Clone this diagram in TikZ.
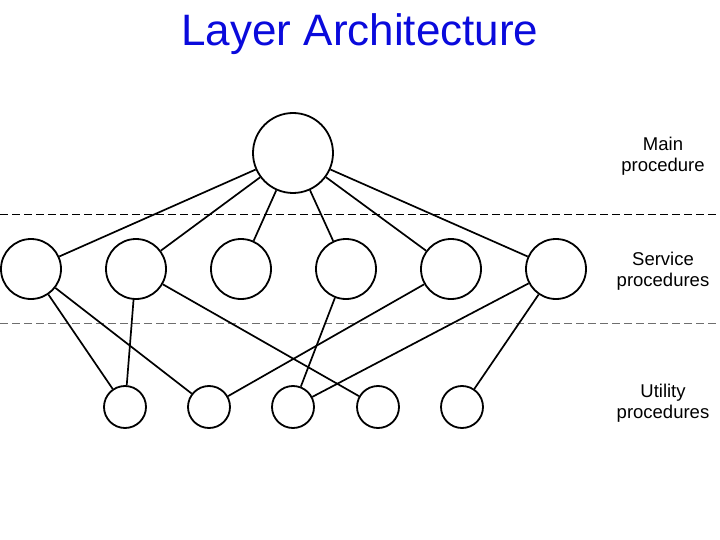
\documentclass[tikz,border=0pt]{standalone}
\usepackage{fontspec}
\setmainfont{Liberation Sans}
\definecolor{titleblue}{RGB}{10,10,220}
\definecolor{dashgray}{RGB}{110,110,110}
\begin{document}
\begin{tikzpicture}[x=1pt,y=-1pt,
  proc/.style={circle,draw,line width=1.8pt,inner sep=0pt},
  mainc/.style={proc,minimum size=80pt},
  servc/.style={proc,minimum size=60pt},
  utilc/.style={proc,minimum size=42pt},
  edge/.style={line width=1.7pt},
  sep/.style={line width=1pt,dash pattern=on 8pt off 4pt},
  lbl/.style={font=\fontsize{18.5}{21.5}\selectfont,align=center}]
\useasboundingbox (0,0) rectangle (720,540);
\node[font=\fontsize{44}{48}\selectfont,text=titleblue,anchor=base] (title) at (360,46) {Layer Architecture};
\draw[sep] (0,215) -- (720,215);
\draw[sep,dashgray] (0,323) -- (720,323);
\node[mainc] (m) at (293,153) {};
\foreach \i/\x in {1/31,2/136,3/241,4/346,5/451,6/556}
  \node[servc] (s\i) at (\x,269) {};
\foreach \i/\x in {1/125,2/209,3/293,4/378,5/462}
  \node[utilc] (u\i) at (\x,407) {};
\foreach \i in {1,...,6} \draw[edge] (m) -- (s\i);
\draw[edge] (s1) -- (u1);
\draw[edge] (s1) -- (u2);
\draw[edge] (s2) -- (u1);
\draw[edge] (s2) -- (u4);
\draw[edge] (s4) -- (u3);
\draw[edge] (s5) -- (u2);
\draw[edge] (s6) -- (u3);
\draw[edge] (s6) -- (u5);
\node[lbl] (lm) at (663,156) {Main\\procedure};
\node[lbl] (ls) at (663,271) {Service\\procedures};
\node[lbl] (lu) at (663,403) {Utility\\procedures};
\end{tikzpicture}
\end{document}
